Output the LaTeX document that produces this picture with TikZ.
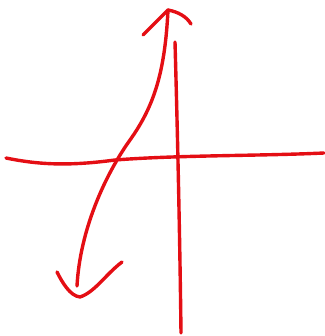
\documentclass[tikz,border=0pt]{standalone}
\begin{document}
\begin{tikzpicture}[x=1pt,y=-1pt,
  pen/.style={draw={rgb,255:red,228;green,14;blue,20},line width=3.4pt,line cap=round,line join=round}]
\useasboundingbox (0,0) rectangle (324,336);
% horizontal axis
\coordinate (hl) at (6,158);
\coordinate (hr) at (324,153);
\draw[pen] (hl) .. controls (40,165) and (70,166) .. (115,160) .. controls (180,155) and (260,156) .. (hr);
% vertical axis
\coordinate (vt) at (175,42);
\coordinate (vb) at (181,333);
\draw[pen] (vt) .. controls (178,150) and (180,250) .. (vb);
% curve
\coordinate (ctop) at (168,10);
\coordinate (cmid) at (130,140);
\coordinate (cbot) at (77,286);
\draw[pen] (ctop) .. controls (165,70) and (155,105) .. (cmid) .. controls (105,175) and (80,230) .. (cbot);
% top arrowhead
\coordinate (tl) at (143,35);
\coordinate (tr) at (191,24);
\draw[pen] (tl) -- (ctop) .. controls (178,12) and (186,16) .. (tr);
% bottom arrowhead
\coordinate (bl) at (57,272);
\coordinate (bb) at (80,297);
\coordinate (br) at (122,262);
\draw[pen] (bl) .. controls (62,282) and (70,296) .. (bb) .. controls (95,292) and (105,275) .. (br);
\end{tikzpicture}
\end{document}
